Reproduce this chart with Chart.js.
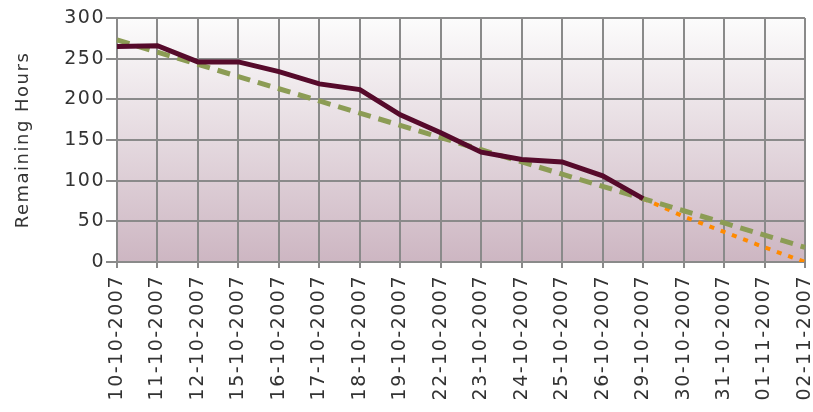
<!DOCTYPE html>
<html>
<head>
<meta charset="utf-8">
<script src="https://cdn.jsdelivr.net/npm/chart.js@4"></script>
<style>
  html, body { margin: 0; padding: 0; background: #fff; }
  #wrap { width: 813px; height: 412px; }
</style>
</head>
<body>
<div id="wrap"><canvas id="burndown" width="813" height="412"></canvas></div>
<script>
const dates = ['10-10-2007', '11-10-2007', '12-10-2007', '15-10-2007', '16-10-2007', '17-10-2007',
  '18-10-2007', '19-10-2007', '22-10-2007', '23-10-2007', '24-10-2007', '25-10-2007',
  '26-10-2007', '29-10-2007', '30-10-2007', '31-10-2007', '01-11-2007', '02-11-2007'];
const remaining = [265, 266, 246, 246, 234, 219, 212, 181, 159, 135, 126, 123, 106, 78,
  null, null, null, null];
const ideal = [273, 258, 243, 228, 213, 198, 183, 168, 153, 138, 123, 108, 93, 78, 63, 48, 33, 18];
const projected = [null, null, null, null, null, null, null, null, null, null, null, null, null,
  78, 56, 37, 18, 0];
const yTicks = [0, 50, 100, 150, 200, 250, 300];

const gridColor = '#8a8a8a';
const textColor = '#333333';

// plot background + wide letter spacing like the original
const plotBg = {
  id: 'plotBg',
  beforeDraw(chart) {
    const { ctx, chartArea: a } = chart;
    ctx.letterSpacing = '1.5px';
    const g = ctx.createLinearGradient(0, a.top, 0, a.bottom);
    g.addColorStop(0, '#fcfcfc');
    g.addColorStop(1, '#cdb6c2');
    ctx.save();
    ctx.fillStyle = g;
    ctx.fillRect(a.left, a.top, a.right - a.left, a.bottom - a.top);
    ctx.restore();
  }
};

new Chart(document.getElementById('burndown').getContext('2d'), {
  type: 'line',
  data: {
    labels: dates,
    datasets: [
      {
        label: 'Remaining',
        data: remaining,
        borderColor: '#560a2b',
        borderWidth: 5,
        pointRadius: 0
      },
      {
        label: 'Ideal',
        data: ideal,
        borderColor: '#8c9c55',
        borderWidth: 5,
        borderDash: [13, 8],
        pointRadius: 0
      },
      {
        label: 'Projected',
        data: projected,
        borderColor: '#ff8a00',
        borderWidth: 4,
        borderDash: [5, 7],
        pointRadius: 0
      }
    ]
  },
  options: {
    responsive: false,
    animation: false,
    layout: { padding: { left: 0, top: 18, right: 8, bottom: 0 } },
    plugins: { legend: { display: false }, tooltip: { enabled: false } },
    scales: {
      x: {
        offset: false,
        grid: { color: gridColor, lineWidth: 2, tickLength: 6 },
        border: { color: gridColor, width: 2 },
        ticks: {
          color: textColor,
          font: { family: 'DejaVu Sans', size: 19 },
          minRotation: 90,
          maxRotation: 90,
          padding: 7,
          autoSkip: false
        },
        afterFit(scale) {
          scale.height = 150;
          scale.paddingLeft = 0;
          scale.paddingRight = 0;
        }
      },
      y: {
        min: 0,
        max: 300,
        afterBuildTicks(scale) { scale.ticks = yTicks.map(v => ({ value: v })); },
        grid: { color: gridColor, lineWidth: 2, tickLength: 11 },
        border: { color: gridColor, width: 2 },
        ticks: {
          color: textColor,
          font: { family: 'DejaVu Sans', size: 19 },
          padding: 1
        },
        title: {
          display: true,
          text: 'Remaining Hours',
          color: textColor,
          font: { family: 'DejaVu Sans', size: 18 },
          padding: { top: 13, bottom: 0 }
        },
        afterFit(scale) {
          scale.width = 117;
          scale.paddingTop = 0;
          scale.paddingBottom = 0;
        }
      }
    }
  },
  plugins: [plotBg]
});
</script>
</body>
</html>
